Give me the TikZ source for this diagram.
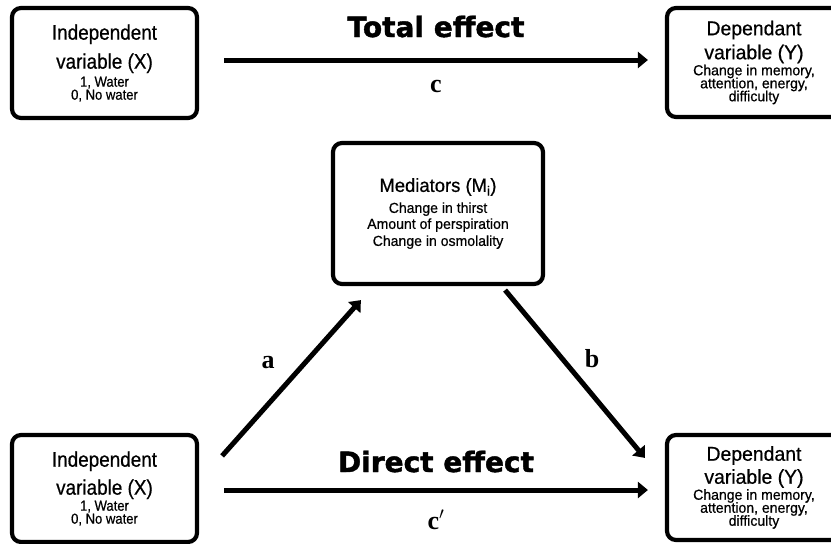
\documentclass[tikz,border=0pt]{standalone}
\usepackage{fontspec}
\setmainfont{Liberation Sans}
\newfontfamily\boxfont[FakeStretch=0.9,FakeBold=0.6]{Liberation Sans}
\newfontfamily\wideboxfont[FakeStretch=0.97,FakeBold=0.6]{Liberation Sans}
\newfontfamily\headfont[BoldFeatures={FakeBold=1.5}]{DejaVu Sans}
\newfontfamily\letterfont{Liberation Serif}
\usetikzlibrary{arrows.meta,positioning}

\newcommand{\bigtxt}[2]{{\fontsize{#1}{0}\selectfont #2}}

\tikzset{
  box/.style={draw=black,line width=4.2pt,rounded corners=9pt,align=center,inner sep=0pt,
    font=\boxfont\fontsize{14.5}{0}\selectfont,
    execute at begin node={\lineskiplimit=-1000pt\lineskip=0pt}},
  widebox/.style={box,font=\wideboxfont\fontsize{14.5}{0}\selectfont},
  effect/.style={-{Triangle[length=10pt,width=16pt]},line width=5pt},
  heading/.style={font=\headfont\bfseries\fontsize{28}{28}\selectfont,inner sep=0pt,anchor=base},
  letter/.style={font=\letterfont\bfseries\fontsize{26}{26}\selectfont,inner sep=0pt,anchor=base}
}

\begin{document}
\begin{tikzpicture}[x=1pt,y=-1pt]
  \clip (0,0) rectangle (831,544);

  % total effect
  \node[box,minimum width=185pt,minimum height=110pt] (X1) at (104.5,63)
    {\bigtxt{21}{Independent}\\[29pt]\bigtxt{21}{variable (X)}\\[18pt]1, Water\\[13pt]0, No water};
  \node[widebox,minimum width=174pt,minimum height=109pt] (Y1) at (754,62.5)
    {\bigtxt{20}{Dependant}\\[24pt]\bigtxt{20}{variable (Y)}\\[16pt]Change in memory,\\[13pt]attention, energy,\\[13pt]difficulty};

  \path[effect,draw] ([shift={(25,-3)}]X1.east) -- ([shift={(-17,-2.5)}]Y1.west)
    node[heading,midway,yshift=23pt] {Total effect}
    node[letter,midway,yshift=-32pt] {c};

  % mediators
  \node[widebox,minimum width=210pt,minimum height=141pt] (M) at (438,213.5)
    {\bigtxt{19}{Mediators (M\textsubscript{i})}\\[21pt]Change in thirst\\[16pt]Amount of perspiration\\[17pt]Change in osmolality};

  % direct effect
  \node[box,minimum width=185pt,minimum height=107pt] (X2) at (104.5,488.5)
    {\bigtxt{21}{Independent}\\[28pt]\bigtxt{21}{variable (X)}\\[16pt]1, Water\\[13pt]0, No water};
  \node[widebox,minimum width=174pt,minimum height=105pt] (Y2) at (754,487.5)
    {\bigtxt{20}{Dependant}\\[23pt]\bigtxt{20}{variable (Y)}\\[16pt]Change in memory,\\[13pt]attention, energy,\\[13pt]difficulty};

  \path[effect,draw] ([shift={(25,1.5)}]X2.east) -- ([shift={(-17,2.5)}]Y2.west)
    node[heading,midway,yshift=18pt] {Direct effect}
    node[letter,midway,yshift=-39pt] {c$'$};

  \path[effect,draw] ([shift={(23,23)}]X2.north east) -- ([shift={(30,14)}]M.south west)
    node[letter,midway,xshift=-23.5pt,yshift=10pt] {a};
  \path[effect,draw] ([shift={(-40,4)}]M.south east) -- ([shift={(-20,25)}]Y2.north west)
    node[letter,midway,xshift=17pt,yshift=7pt] {b};
\end{tikzpicture}
\end{document}
